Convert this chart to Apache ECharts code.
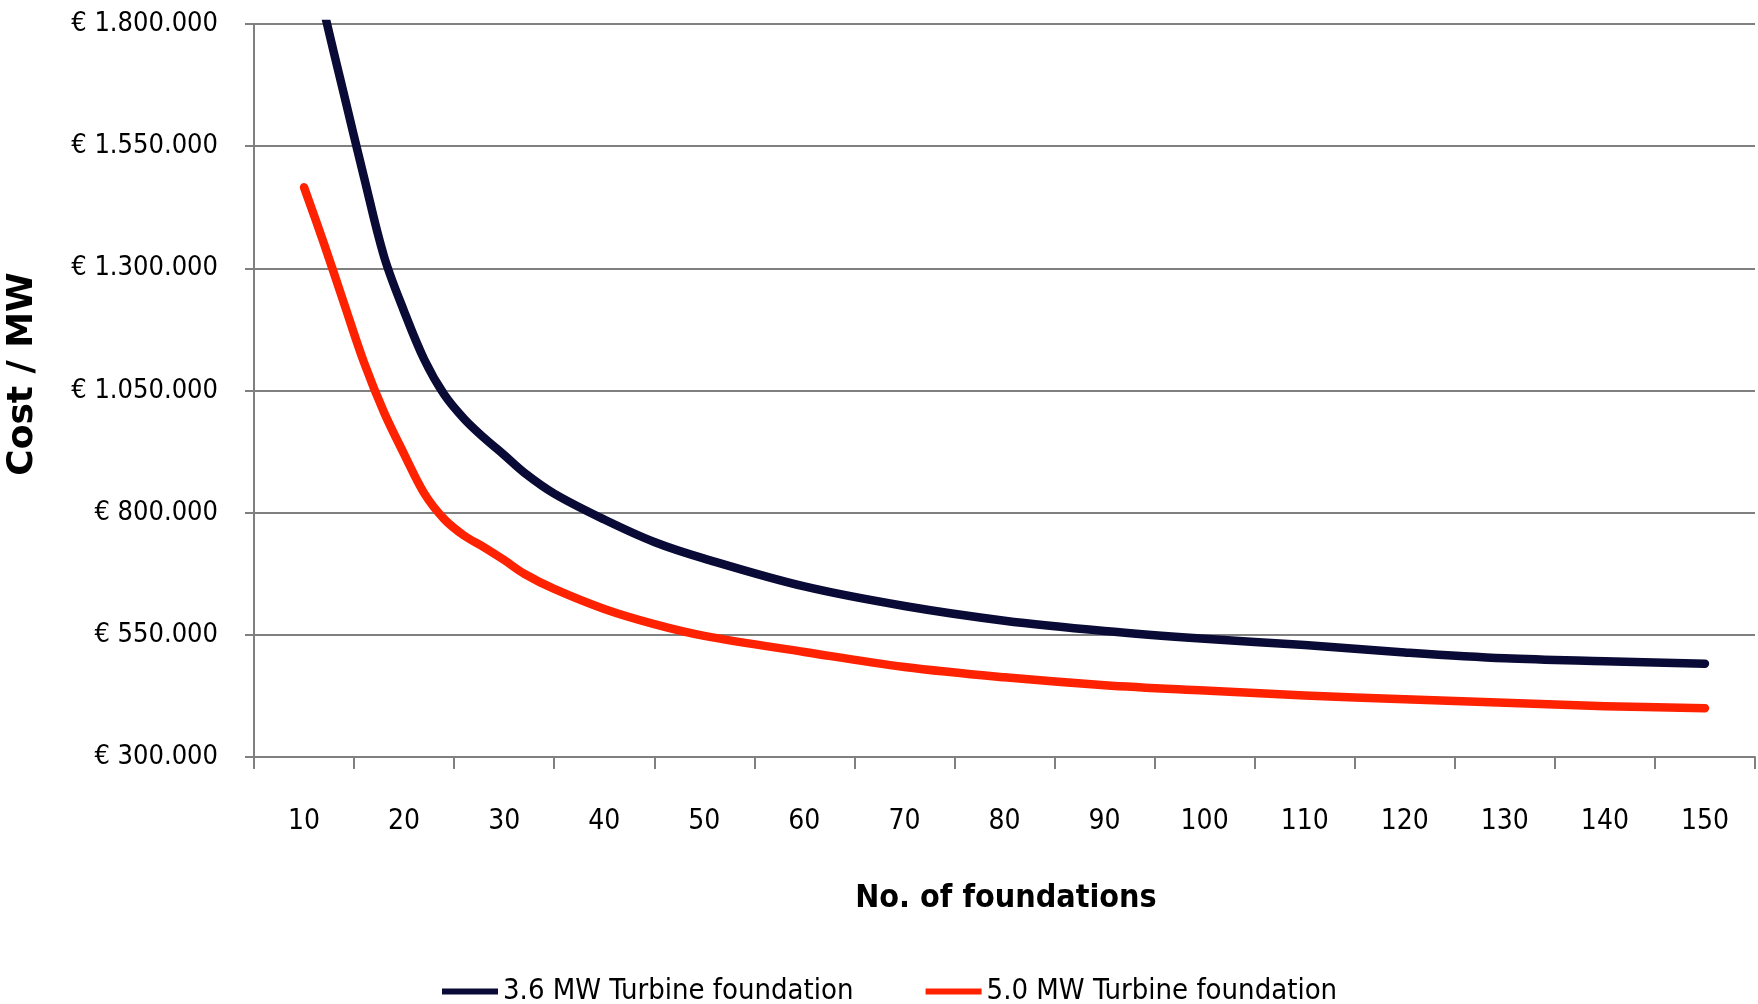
<!DOCTYPE html>
<html>
<head>
<meta charset="utf-8">
<script src="https://cdn.jsdelivr.net/npm/echarts@6/dist/echarts.min.js"></script>
<style>
html,body{margin:0;padding:0;background:#fff;}
#chart{width:1758px;height:1004px;}
</style>
</head>
<body>
<div id="chart"></div>
<script>
// ---- data ----
const xCategories = ['10','20','30','40','50','60','70','80','90','100','110','120','130','140','150'];
const foundations = [10,12,14,16,18,20,22,24,26,28,30,32,35,40,45,50,60,70,80,90,100,110,120,130,140,150];
const cost36 = [2010000,1826000,1655000,1486000,1324000,1212000,1114000,1042000,992000,953000,918000,882000,839000,786000,740000,706000,649000,609000,579000,558000,542000,529000,514000,502000,496000,491000];
const cost50 = [1466000,1350000,1228000,1107000,1005000,920000,840000,787000,753000,729000,703000,675000,644000,603000,572000,548000,515000,484000,463000,447000,436000,426000,418000,411000,404000,400000];
const yTicks = [300000,550000,800000,1050000,1300000,1550000,1800000];
const seriesNames = ['3.6 MW Turbine foundation','5.0 MW Turbine foundation'];

const narrow = "'DejaVu Sans Condensed','Liberation Sans Narrow',sans-serif";
function fmtEuro(v){
  return '€ ' + String(Math.round(v)).replace(/\B(?=(\d{3})+(?!\d))/g, '.');
}
const pairs = (xs, ys) => xs.map((x,i)=>[x, ys[i]]);

const chart = echarts.init(document.getElementById('chart'), null, {renderer:'canvas'});
chart.setOption({
  animation:false,
  backgroundColor:'#ffffff',
  grid:{left:254, right:3, top:24, bottom:247, containLabel:false},
  xAxis:[{
    type:'category',
    data:xCategories,
    boundaryGap:true,
    axisLine:{show:true, lineStyle:{color:'#808080', width:2}},
    axisTick:{show:true, length:12, inside:false, alignWithLabel:false, lineStyle:{color:'#808080', width:2}},
    axisLabel:{show:true, margin:51, color:'#000', fontSize:28, fontFamily:narrow},
    splitLine:{show:false}
  },{
    type:'value',
    min:5, max:155,
    show:false
  }],
  yAxis:{
    type:'value',
    min:300000, max:1800000,
    axisLine:{show:true, lineStyle:{color:'#808080', width:2}},
    axisTick:{show:true, length:9, customValues:yTicks, lineStyle:{color:'#808080', width:2}},
    axisLabel:{show:true, customValues:yTicks, margin:36, color:'#000', fontSize:27, fontFamily:narrow, formatter:fmtEuro},
    splitLine:{show:true, lineStyle:{color:'#808080', width:2}}
  },
  legend:{
    left:437, top:972,
    icon:'rect', itemWidth:56, itemHeight:6, itemGap:72,
    textStyle:{color:'#000', fontSize:29, fontFamily:narrow},
    data:seriesNames
  },
  graphic:[
    {type:'text', x:1006, y:899, style:{text:'No. of foundations', textAlign:'center', textVerticalAlign:'middle', font:"bold 32px 'DejaVu Sans Condensed',sans-serif", fill:'#000'}},
    {type:'text', x:23, y:374, rotation:Math.PI/2, style:{text:'Cost / MW', textAlign:'center', textVerticalAlign:'middle', font:"bold 36px 'DejaVu Sans',sans-serif", fill:'#000'}}
  ],
  series:[{
    name:seriesNames[0], type:'line', xAxisIndex:1,
    data:pairs(foundations, cost36),
    smooth:0.35, showSymbol:false, symbol:'none',
    lineStyle:{color:'#0a0a36', width:8.5, cap:'round', join:'round'},
    itemStyle:{color:'#0a0a36'},
    clip:true
  },{
    name:seriesNames[1], type:'line', xAxisIndex:1,
    data:pairs(foundations, cost50),
    smooth:0.35, showSymbol:false, symbol:'none',
    lineStyle:{color:'#ff2200', width:8.5, cap:'round', join:'round'},
    itemStyle:{color:'#ff2200'},
    clip:true
  }]
});
</script>
</body>
</html>
